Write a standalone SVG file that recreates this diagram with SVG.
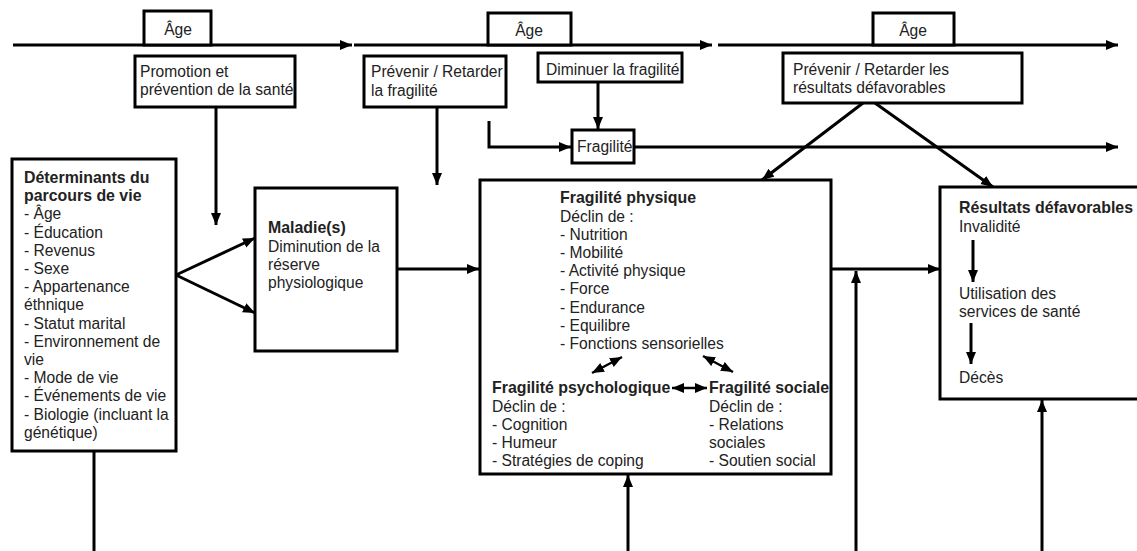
<svg xmlns="http://www.w3.org/2000/svg" width="1137" height="551" viewBox="0 0 1137 551">
<style>
  .box { fill: #fff; stroke: #000; stroke-width: 3; }
  .ln { fill: none; stroke: #000; stroke-width: 3; }
  .arr { marker-end: url(#ah); }
  .dbl { marker-start: url(#ah); marker-end: url(#ah); }
  text { font-family: "Liberation Sans", Arial, sans-serif; font-size: 15.6px; fill: #222; }
  .b { font-weight: bold; font-size: 15.9px; }
  .c { text-anchor: middle; }
</style>
<defs>
  <marker id="ah" markerUnits="userSpaceOnUse" markerWidth="13" markerHeight="11" refX="12" refY="5" orient="auto-start-reverse" viewBox="0 0 13 11">
    <path d="M0,0 L12,5 L0,10 z" fill="#000"/>
  </marker>
</defs>
<rect width="1137" height="551" fill="#fff"/>

<g id="connectors">
  <line class="ln arr" x1="13" y1="45" x2="352" y2="45"/>
  <line class="ln arr" x1="354" y1="45" x2="712" y2="45"/>
  <line class="ln arr" x1="718" y1="45" x2="1118" y2="45"/>
  <line class="ln arr" x1="216" y1="107" x2="216" y2="225"/>
  <line class="ln arr" x1="437" y1="107" x2="437" y2="185"/>
  <line class="ln arr" x1="598" y1="82" x2="598" y2="129"/>
  <path class="ln arr" d="M489,121 V147 H571"/>
  <line class="ln arr" x1="634" y1="147" x2="1118" y2="147"/>
  <line class="ln arr" x1="863" y1="103" x2="762" y2="180"/>
  <line class="ln arr" x1="875" y1="103" x2="993" y2="187"/>
  <line class="ln" x1="94" y1="451" x2="94" y2="551"/>
  <line class="ln arr" x1="176" y1="275" x2="255" y2="238"/>
  <line class="ln arr" x1="176" y1="275" x2="255" y2="313"/>
  <line class="ln arr" x1="397" y1="269" x2="479" y2="269"/>
  <line class="ln arr" x1="628" y1="551" x2="628" y2="475"/>
  <line class="ln arr" x1="831" y1="269" x2="940" y2="269"/>
  <line class="ln arr" x1="856" y1="551" x2="856" y2="271"/>
  <line class="ln arr" x1="1042" y1="551" x2="1042" y2="400"/>
</g>

<g id="age1">
  <rect class="box" x="144" y="11" width="67" height="34"/>
  <text class="c" x="178" y="35">Âge</text>
</g>
<g id="age2">
  <rect class="box" x="488" y="13" width="83" height="32"/>
  <text class="c" x="529" y="36">Âge</text>
</g>
<g id="age3">
  <rect class="box" x="873" y="13" width="81" height="32"/>
  <text class="c" x="913" y="36">Âge</text>
</g>

<g id="promotion">
  <rect class="box" x="135" y="56" width="160" height="51"/>
  <text x="140" y="77">Promotion et</text>
  <text x="140" y="95">prévention de la santé</text>
</g>
<g id="prevenir-fragilite">
  <rect class="box" x="364" y="56" width="142" height="51"/>
  <text x="371" y="77">Prévenir / Retarder</text>
  <text x="371" y="96">la fragilité</text>
</g>
<g id="diminuer">
  <rect class="box" x="538" y="53" width="144" height="29"/>
  <text x="546" y="75">Diminuer la fragilité</text>
</g>
<g id="fragilite">
  <rect class="box" x="572" y="130" width="62" height="33"/>
  <text x="577" y="152">Fragilité</text>
</g>
<g id="prevenir-resultats">
  <rect class="box" x="783" y="53" width="239" height="50"/>
  <text x="793" y="75">Prévenir / Retarder les</text>
  <text x="793" y="93">résultats défavorables</text>
</g>

<g id="determinants">
  <rect class="box" x="12" y="159" width="164" height="292"/>
  <text class="b" x="24" y="183">Déterminants du</text>
  <text class="b" x="24" y="201.2">parcours de vie</text>
  <text x="24" y="219.4">- Âge</text>
  <text x="24" y="237.6">- Éducation</text>
  <text x="24" y="255.8">- Revenus</text>
  <text x="24" y="274">- Sexe</text>
  <text x="24" y="292.2">- Appartenance</text>
  <text x="24" y="310.4">éthnique</text>
  <text x="24" y="328.6">- Statut marital</text>
  <text x="24" y="346.8">- Environnement de</text>
  <text x="24" y="365">vie</text>
  <text x="24" y="383.2">- Mode de vie</text>
  <text x="24" y="401.4">- Événements de vie</text>
  <text x="24" y="419.6">- Biologie (incluant la</text>
  <text x="24" y="437.8">génétique)</text>
</g>

<g id="maladie">
  <rect class="box" x="255" y="188" width="142" height="163"/>
  <text class="b" x="268" y="233">Maladie(s)</text>
  <text x="268" y="251.5">Diminution de la</text>
  <text x="268" y="269.7">réserve</text>
  <text x="268" y="287.9">physiologique</text>
</g>

<g id="fragilite-detail">
  <rect class="box" x="480" y="180" width="351" height="294"/>
  <text class="b" x="560" y="203">Fragilité physique</text>
  <text x="560" y="221.5">Déclin de :</text>
  <text x="560" y="239.7">- Nutrition</text>
  <text x="560" y="257.9">- Mobilité</text>
  <text x="560" y="276.1">- Activité physique</text>
  <text x="560" y="294.3">- Force</text>
  <text x="560" y="312.5">- Endurance</text>
  <text x="560" y="330.7">- Equilibre</text>
  <text x="560" y="348.9">- Fonctions sensorielles</text>
  <line class="ln dbl" x1="592" y1="373" x2="622" y2="357" style="stroke-width:2.5"/>
  <line class="ln dbl" x1="703" y1="356" x2="733" y2="372" style="stroke-width:2.5"/>
  <line class="ln dbl" x1="672" y1="388" x2="707" y2="388" style="stroke-width:2.5"/>
  <text class="b" x="492" y="393">Fragilité psychologique</text>
  <text x="492" y="411.5">Déclin de :</text>
  <text x="492" y="429.7">- Cognition</text>
  <text x="492" y="447.9">- Humeur</text>
  <text x="492" y="466.1">- Stratégies de coping</text>
  <text class="b" x="709" y="393">Fragilité sociale</text>
  <text x="709" y="411.5">Déclin de :</text>
  <text x="709" y="429.7">- Relations</text>
  <text x="709" y="447.9">sociales</text>
  <text x="709" y="466.1">- Soutien social</text>
</g>

<g id="resultats">
  <rect class="box" x="940" y="187" width="210" height="212"/>
  <text class="b" x="959" y="213">Résultats défavorables</text>
  <text x="959" y="232">Invalidité</text>
  <line class="ln arr" x1="973" y1="240" x2="973" y2="282"/>
  <text x="959" y="298.5">Utilisation des</text>
  <text x="959" y="316.7">services de santé</text>
  <line class="ln arr" x1="971" y1="323" x2="971" y2="364"/>
  <text x="959" y="383">Décès</text>
</g>
</svg>
